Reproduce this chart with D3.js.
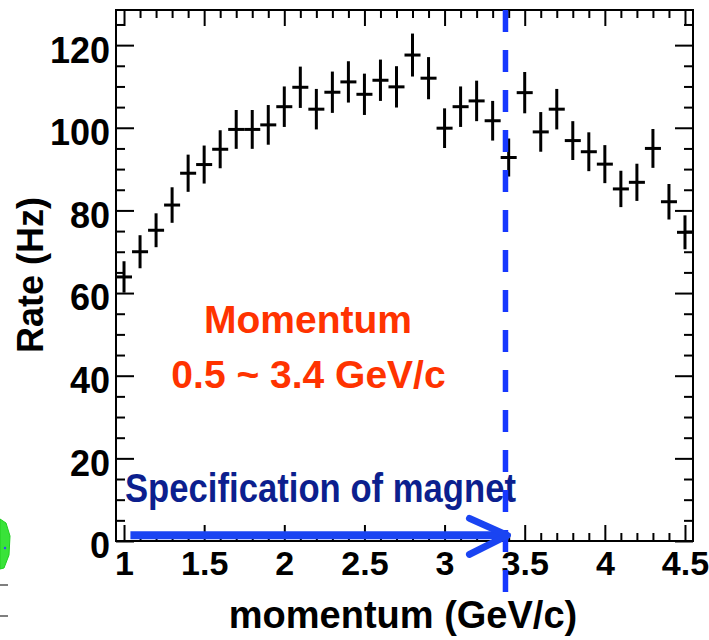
<!DOCTYPE html>
<html>
<head>
<meta charset="utf-8">
<script src="https://cdn.jsdelivr.net/npm/d3@7"></script>
<style>
  html, body { margin: 0; padding: 0; background: #fff; }
  svg { display: block; }
  text { font-family: "Liberation Sans", Arial, Helvetica, sans-serif; font-weight: bold; }
</style>
</head>
<body>
<svg id="chart" width="709" height="640"></svg>
<script>
// Histogram bin centres (GeV/c), bin width 0.1
const momentum = [1.0, 1.1, 1.2, 1.3, 1.4, 1.5, 1.6, 1.7, 1.8, 1.9,
                  2.0, 2.1, 2.2, 2.3, 2.4, 2.5, 2.6, 2.7, 2.8, 2.9,
                  3.0, 3.1, 3.2, 3.3, 3.4, 3.5, 3.6, 3.7, 3.8, 3.9,
                  4.0, 4.1, 4.2, 4.3, 4.4, 4.5];
// Rate per bin (Hz)
const rate = [63.9, 70.0, 75.2, 81.3, 89.0, 91.1, 94.8, 99.6, 99.6, 100.7,
              105.1, 109.8, 104.5, 108.6, 111.1, 108.1, 111.5, 109.9, 117.6, 112.0,
              99.9, 105.1, 106.5, 101.7, 92.8, 108.5, 99.0, 104.5, 96.9, 94.2,
              91.2, 85.2, 86.8, 95.0, 82.1, 74.7];
// Statistical error per bin (Hz)
const rateErr = [3.8, 4.0, 4.1, 4.3, 4.5, 4.6, 4.6, 4.7, 4.7, 4.8,
                 4.9, 5.0, 4.9, 5.0, 5.0, 5.0, 5.0, 5.0, 5.2, 5.1,
                 4.8, 4.9, 4.9, 4.8, 4.6, 5.0, 4.8, 4.9, 4.7, 4.7,
                 4.6, 4.4, 4.5, 4.7, 4.3, 4.1];
const binWidth = 0.1;

const xMajorTicks = [1, 1.5, 2, 2.5, 3, 3.5, 4, 4.5];
const xTickLabels = ["1", "1.5", "2", "2.5", "3", "3.5", "4", "4.5"];
const yMajorTicks = [0, 20, 40, 60, 80, 100, 120];

// Magnet acceptance limit and the arrow that spans the accepted range
const magnetLimit = 3.38;
const arrowStart = 1.04;
const arrowLevel = 1.0;

const svg = d3.select("#chart");
const frame = { left: 116, right: 693, top: 10, bottom: 541 };

const x = d3.scaleLinear().domain([0.95, 4.55]).range([frame.left, frame.right]);
const y = d3.scaleLinear().domain([0, 128.5]).range([frame.bottom, frame.top]);

const xMinor = d3.range(10, 46).map(d => d / 10).filter(d => !xMajorTicks.some(m => Math.abs(m - d) < 1e-6));
const yMinor = d3.range(0, 129, 5).filter(d => d % 20 !== 0);

function styleAxis(g) {
  g.select(".domain").remove();
  g.selectAll(".tick line").attr("stroke", "#000").attr("stroke-width", 2);
}

// Bottom axis: major ticks with labels, minor ticks without
svg.append("g").attr("transform", `translate(0,${frame.bottom})`)
  .call(d3.axisBottom(x).tickValues(xMajorTicks).tickSize(-16).tickPadding(10)
        .tickFormat((d, i) => xTickLabels[i]))
  .call(styleAxis)
  .call(g => g.selectAll("text").attr("fill", "#000").attr("font-size", 34)
        .style("font-family", '"Liberation Sans", Arial, sans-serif').style("font-weight", "bold"));
svg.append("g").attr("transform", `translate(0,${frame.bottom})`)
  .call(d3.axisBottom(x).tickValues(xMinor).tickSize(-8).tickFormat(""))
  .call(styleAxis);

// Top axis ticks
svg.append("g").attr("transform", `translate(0,${frame.top})`)
  .call(d3.axisTop(x).tickValues(xMajorTicks).tickSize(-16).tickFormat(""))
  .call(styleAxis);
svg.append("g").attr("transform", `translate(0,${frame.top})`)
  .call(d3.axisTop(x).tickValues(xMinor).tickSize(-8).tickFormat(""))
  .call(styleAxis);

// Left axis
svg.append("g").attr("transform", `translate(${frame.left},0)`)
  .call(d3.axisLeft(y).tickValues(yMajorTicks).tickSize(-18).tickPadding(6))
  .call(styleAxis)
  .call(g => g.selectAll("text").attr("fill", "#000").attr("font-size", 36).attr("dy", "0.47em")
        .style("font-family", '"Liberation Sans", Arial, sans-serif').style("font-weight", "bold"));
svg.append("g").attr("transform", `translate(${frame.left},0)`)
  .call(d3.axisLeft(y).tickValues(yMinor).tickSize(-9).tickFormat(""))
  .call(styleAxis);

// Right axis ticks
svg.append("g").attr("transform", `translate(${frame.right},0)`)
  .call(d3.axisRight(y).tickValues(yMajorTicks).tickSize(-18).tickFormat(""))
  .call(styleAxis);
svg.append("g").attr("transform", `translate(${frame.right},0)`)
  .call(d3.axisRight(y).tickValues(yMinor).tickSize(-9).tickFormat(""))
  .call(styleAxis);

// Frame
svg.append("rect")
  .attr("x", frame.left).attr("y", frame.top)
  .attr("width", frame.right - frame.left).attr("height", frame.bottom - frame.top)
  .attr("fill", "none").attr("stroke", "#000").attr("stroke-width", 2);

// Histogram points: full-bin horizontal bar plus vertical error bar
const pts = svg.append("g").attr("stroke", "#000").attr("stroke-width", 3);
momentum.forEach((m, i) => {
  pts.append("line")
    .attr("x1", x(m - binWidth / 2)).attr("x2", x(m + binWidth / 2))
    .attr("y1", y(rate[i])).attr("y2", y(rate[i]));
  pts.append("line")
    .attr("x1", x(m)).attr("x2", x(m))
    .attr("y1", y(rate[i] - rateErr[i])).attr("y2", y(rate[i] + rateErr[i]));
});

// Axis titles
svg.append("text")
  .attr("x", 403).attr("y", 628).attr("text-anchor", "middle")
  .attr("font-size", 38).attr("fill", "#000")
  .text("momentum (GeV/c)");
svg.append("text")
  .attr("transform", "translate(43,275) rotate(-90)").attr("text-anchor", "middle")
  .attr("font-size", 36).attr("fill", "#000")
  .text("Rate (Hz)");

// Annotation text
svg.append("text")
  .attr("x", 308).attr("y", 333).attr("text-anchor", "middle")
  .attr("font-size", 39).attr("fill", "#ff3300")
  .text("Momentum");
svg.append("text")
  .attr("x", 308.5).attr("y", 388).attr("text-anchor", "middle")
  .attr("font-size", 39).attr("fill", "#ff3300")
  .text("0.5 ~ 3.4 GeV/c");
svg.append("text")
  .attr("x", 125).attr("y", 502)
  .attr("font-size", 40).attr("fill", "#0c1f8e")
  .attr("textLength", 391).attr("lengthAdjust", "spacingAndGlyphs")
  .text("Specification of magnet");

// Dashed magnet limit line
svg.append("line")
  .attr("x1", x(magnetLimit)).attr("x2", x(magnetLimit))
  .attr("y1", frame.top).attr("y2", 597)
  .attr("stroke", "#1638ff").attr("stroke-width", 5.5)
  .attr("stroke-dasharray", "22 18");

// Arrow along the bottom of the frame
const ay = y(arrowLevel) - 1.5;
const tipX = x(magnetLimit) + 2;
svg.append("line")
  .attr("x1", x(arrowStart)).attr("x2", tipX)
  .attr("y1", ay).attr("y2", ay)
  .attr("stroke", "#1a44f2").attr("stroke-width", 8);
svg.append("path")
  .attr("d", `M${tipX - 38},${ay - 17} L${tipX},${ay} L${tipX - 38},${ay + 19}`)
  .attr("fill", "none").attr("stroke", "#1a44f2").attr("stroke-width", 7)
  .attr("stroke-linecap", "round").attr("stroke-linejoin", "round");

// Fragments at the left edge
svg.append("path")
  .attr("d", "M0,519 L6,523 L10,536 L9,555 L4,568 L0,569 Z")
  .attr("fill", "#39e339").attr("stroke", "#1fd01f").attr("stroke-width", 1);
svg.append("circle").attr("cx", 5).attr("cy", 548).attr("r", 1.2).attr("fill", "#3344ff");
svg.append("line").attr("x1", 0).attr("x2", 8).attr("y1", 585).attr("y2", 585)
  .attr("stroke", "#555").attr("stroke-width", 1.5);
svg.append("line").attr("x1", 0).attr("x2", 8).attr("y1", 616).attr("y2", 616)
  .attr("stroke", "#555").attr("stroke-width", 1.5);
</script>
</body>
</html>
